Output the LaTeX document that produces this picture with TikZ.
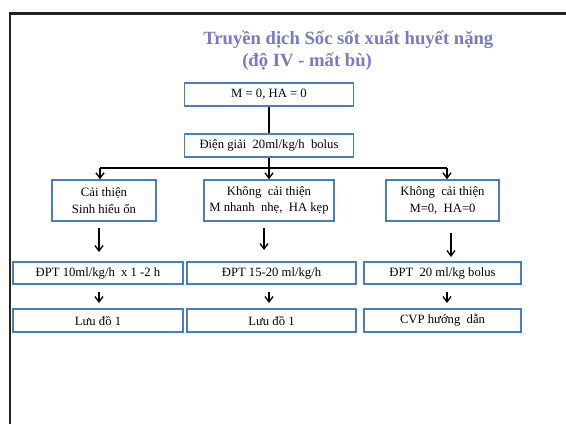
\documentclass[tikz,border=0pt]{standalone}
\usepackage{fontspec}
\setmainfont{Liberation Serif}
\usetikzlibrary{arrows.meta}
\definecolor{titleblue}{RGB}{122,122,192}
\definecolor{boxblue}{RGB}{74,126,187}
\definecolor{framegray}{RGB}{34,34,34}
\begin{document}
\begin{tikzpicture}[x=0.75pt,y=-0.75pt,
  box/.style={draw=boxblue,line width=1.1pt,fill=white,rectangle,inner sep=1pt,
    align=center,font=\fontsize{9.5}{12.5}\selectfont},
  link/.style={line width=1.5pt,black},
  arr/.style={link,-{Straight Barb[length=4pt,width=6pt,line width=1pt]}},
  titletext/.style={inner sep=0pt,text=titleblue,font=\fontsize{14}{16}\selectfont\bfseries}]
\useasboundingbox (0,0) rectangle (566,424);
\fill[white] (0,0) rectangle (566,424);
% slide frame
\draw[framegray,line width=2pt] (10,424) -- (10,13.5) -- (566,13.5);

% title
\node[titletext,anchor=base west] (t1) at (203,45) {Truyền dịch Sốc sốt xuất huyết nặng};
\node[titletext,anchor=base west] (t2) at (242,67) {(độ IV - mất bù)};

% boxes
\node[box,minimum width=169*0.75pt,minimum height=23*0.75pt] (top) at (269,94.5) {M = 0, HA = 0};
\node[box,minimum width=169*0.75pt,minimum height=23*0.75pt] (dien) at (269,145.5) {Điện giải \ 20ml/kg/h \ bolus};

\node[box,minimum width=104*0.75pt,minimum height=41*0.75pt] (c1) at (104,200.5) {Cải thiện\\Sinh hiểu ổn};
\node[box,minimum width=130*0.75pt,minimum height=41*0.75pt] (c2) at (269,200.5) {Không \ cải thiện\\M nhanh \ nhẹ, \ HA kẹp};
\node[box,minimum width=113*0.75pt,minimum height=41*0.75pt] (c3) at (442.5,200.5) {Không \ cải thiện\\M=0, \ HA=0};

\node[box,minimum width=170*0.75pt,minimum height=22*0.75pt] (d1) at (98,273) {ĐPT 10ml/kg/h \ x 1 -2 h};
\node[box,minimum width=169*0.75pt,minimum height=22*0.75pt] (d2) at (271.5,273) {ĐPT 15-20 ml/kg/h};
\node[box,minimum width=157*0.75pt,minimum height=22*0.75pt] (d3) at (442.5,273) {ĐPT \ 20 ml/kg bolus};

\node[box,minimum width=170*0.75pt,minimum height=23*0.75pt] (e1) at (98,320.5) {Lưu đồ 1};
\node[box,minimum width=169*0.75pt,minimum height=23*0.75pt] (e2) at (271.5,320.5) {Lưu đồ 1};
\node[box,minimum width=157*0.75pt,minimum height=23*0.75pt] (e3) at (442.5,320.5) {CVP hướng \ dẫn};

% branching under the bolus box
\coordinate (j) at (269,168);
\coordinate (jl) at (100,168);
\coordinate (jr) at (447,168);
\draw[link] (top.south) -- (dien.north);
\draw[link] (dien.south) -- (j);
\draw[link] (jl) -- (jr);
\draw[arr] (jl) -- (jl |- c1.north);
\draw[arr] (j) -- (j |- c2.north);
\draw[arr] (jr) -- (jr |- c3.north);

% arrows from the assessment boxes to the infusion boxes
\coordinate (a1s) at (99,228);   \coordinate (a1e) at (99,252);
\coordinate (a2s) at (264,228);  \coordinate (a2e) at (264,250);
\coordinate (a3s) at (451,233);  \coordinate (a3e) at (451,257);
\draw[arr] (a1s) -- (a1e);
\draw[arr] (a2s) -- (a2e);
\draw[arr] (a3s) -- (a3e);

% arrows from the infusion boxes to the next steps
\coordinate (b1s) at (99,292);   \coordinate (b1e) at (99,303);
\coordinate (b2s) at (269,292);  \coordinate (b2e) at (269,303);
\coordinate (b3s) at (447,292);  \coordinate (b3e) at (447,303);
\draw[arr] (b1s) -- (b1e);
\draw[arr] (b2s) -- (b2e);
\draw[arr] (b3s) -- (b3e);
\end{tikzpicture}
\end{document}
